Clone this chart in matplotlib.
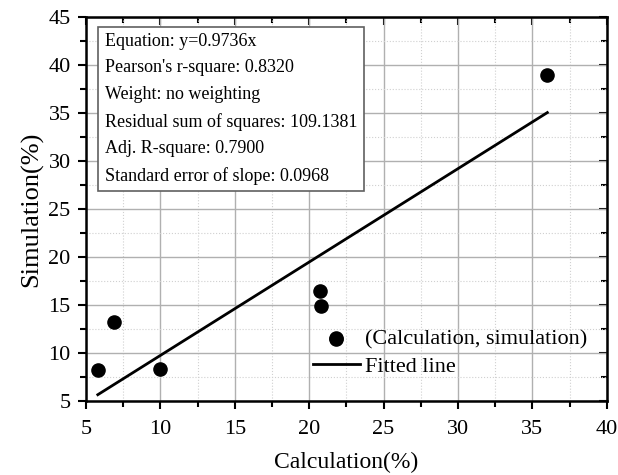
import numpy as np
from matplotlib import pyplot as plt
from matplotlib.ticker import MultipleLocator

plt.rcParams["font.family"] = ["Liberation Serif", "DejaVu Serif"]

calculation = [5.8, 6.9, 10.0, 20.7, 20.8, 21.8, 36.0]
simulation = [8.2, 13.2, 8.3, 16.5, 14.9, 11.5, 39.0]
slope = 0.9736

fit_text = ["Equation: y=0.9736x",
			"Pearson's r-square: 0.8320",
			"Weight: no weighting",
			"Residual sum of squares: 109.1381",
			"Adj. R-square: 0.7900",
			"Standard error of slope: 0.0968"]

fig = plt.figure(figsize=(6.18, 4.75), dpi=100)
ax = fig.add_axes([0.139, 0.156, 0.843, 0.808])

ax.scatter(calculation, simulation, s=90, color="black", zorder=3, label="(Calculation, simulation)")
fit_x = np.array([min(calculation), max(calculation)])
ax.plot(fit_x, slope * fit_x, color="black", lw=2, zorder=3, label="Fitted line")

ax.set_xlim(5, 40)
ax.set_ylim(5, 45)
ax.xaxis.set_major_locator(MultipleLocator(5))
ax.yaxis.set_major_locator(MultipleLocator(5))
ax.xaxis.set_minor_locator(MultipleLocator(2.5))
ax.yaxis.set_minor_locator(MultipleLocator(2.5))
ax.grid(which="major", color="#b0b0b0", lw=1)
ax.grid(which="minor", color="#d0d0d0", lw=0.8, linestyle=":")
ax.set_axisbelow(True)

for sp in ax.spines.values():
	sp.set_linewidth(1.8)
ax.tick_params(which="both", direction="out", width=1.5, labelsize=16, top=False, right=False)
ax.tick_params(which="major", length=6, pad=5)
ax.tick_params(which="minor", length=4)
ax.tick_params(axis="x", which="major", pad=8)
sec_x = ax.secondary_xaxis("top")
sec_y = ax.secondary_yaxis("right")
for sec in (sec_x, sec_y):
	sec.tick_params(which="both", direction="in", width=1.5, labelsize=0)
	sec.tick_params(which="major", length=6)
	sec.tick_params(which="minor", length=4)
sec_x.set_xticklabels([])
sec_y.set_yticklabels([])
sec_x.xaxis.set_minor_locator(MultipleLocator(2.5))
sec_y.yaxis.set_minor_locator(MultipleLocator(2.5))

ax.set_xlabel("Calculation(%)", fontsize=17, labelpad=9)
ax.set_ylabel("Simulation(%)", fontsize=19, labelpad=4)

ax.text(6.27, 43.35, "\n".join(fit_text), fontsize=13, va="top", ha="left", linespacing=1.72,
		bbox=dict(boxstyle="square,pad=0.35", fc="white", ec="#606060", lw=1.2), zorder=4)

ax.legend(loc="upper left", frameon=False, fontsize=16, handlelength=2.1, handletextpad=0.25,
		  bbox_to_anchor=(0.436, 0.188), borderpad=0, borderaxespad=0, labelspacing=0.33,
		  markerscale=1.0)

fig.savefig("out.png", dpi=100)
